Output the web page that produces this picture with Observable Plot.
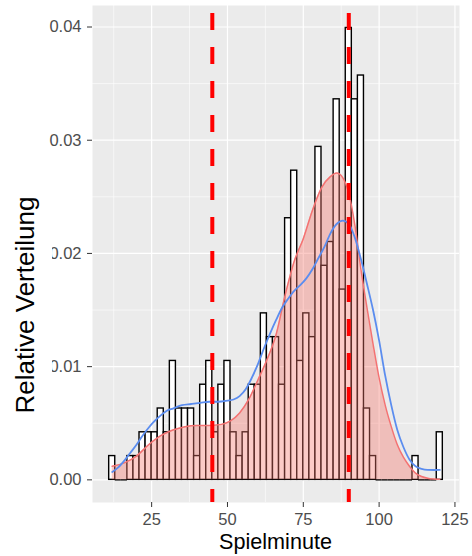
<!DOCTYPE html>
<html>
<head>
<meta charset="utf-8">
<script src="https://cdn.jsdelivr.net/npm/d3@7"></script>
<script src="https://cdn.jsdelivr.net/npm/@observablehq/plot@0.6"></script>
<style>
  body { margin: 0; background: #fff; }
  #chart { width: 472px; height: 556px; }
</style>
</head>
<body>
<div id="chart"></div>
<script>
// Histogram: bins of 2 minutes starting at minute 11
const binStart = 11;
const binWidth = 2;
const nTotal = 238;
const counts = [1,0,0,1,1,2,2,2,3,2, 5,3,3,3,1,4,5,2,4,5, 2,1,2,4,4,7,6,6,4,11, 13,5,7,6,14,9,10,16,8,19, 16,17,3,1,0,0,0,0,0,0, 1,0,0,0,2];

// Density curves
const redX = [12,16,20,24,28,32,36,40,44,48,51,54,57,60,63,66,69,72,75,78,81,84,86,88,90,92,94,96,98,100,102,104,106,108,110,112,114,116,118,120];
const redY = [0.0012,0.0015,0.0021,0.0031,0.0039,0.0044,0.0047,0.0048,0.0048,0.0049,0.0052,0.0059,0.0071,0.0088,0.0106,0.0128,0.0163,0.0193,0.0213,0.0238,0.0258,0.0268,0.0271,0.0267,0.0253,0.0225,0.0186,0.0152,0.0120,0.0090,0.0066,0.0047,0.0031,0.0020,0.0012,0.0006,0.0003,0.00015,0.00008,0.00005];
const blueX = [12,14,16,18,20,22,24,26,28,30,32,35,38,41,44,47,50,52,54,56,58,60,62,64,66,68,70,72,74,76,78,80,82,84,86,88,90,92,94,96,98,100,102,104,106,108,110,112,114,116,118,120];
const blueY = [0.0007,0.0011,0.0017,0.0024,0.0031,0.0039,0.0046,0.0052,0.0057,0.0061,0.0063,0.0066,0.0067,0.0068,0.0069,0.0069,0.0070,0.0071,0.0074,0.0080,0.0090,0.0102,0.0116,0.0129,0.0141,0.0152,0.0160,0.0167,0.0172,0.0178,0.0186,0.0196,0.0206,0.0218,0.0226,0.0229,0.0226,0.0214,0.0195,0.0173,0.0150,0.0123,0.0092,0.0066,0.0044,0.0029,0.0018,0.0012,0.00097,0.00088,0.00087,0.00088];

// Reference lines (half time, full time)
const halfLines = [45, 90];

// Ticks
const xTicks = [25, 50, 75, 100, 125];
const xMinor = [12.5, 37.5, 62.5, 87.5, 112.5];
const yTicks = [0, 0.01, 0.02, 0.03, 0.04];
const yMinor = [0.005, 0.015, 0.025, 0.035];
const xTitle = "Spielminute";
const yTitle = "Relative Verteilung";

const bins = counts.map((c, i) => ({
  x1: binStart + i * binWidth,
  x2: binStart + (i + 1) * binWidth,
  count: c,
  rel: c / (nTotal * binWidth)
}));
const red = redX.map((x, i) => ({x, y: redY[i]}));
const blue = blueX.map((x, i) => ({x, y: blueY[i]}));

const W = 472, H = 556, mL = 92, mR = 13, mT = 5, mB = 54;

const plot = Plot.plot({
  width: W, height: H,
  marginLeft: mL, marginRight: mR, marginTop: mT, marginBottom: mB,
  x: {domain: [5.5, 126.5]},
  y: {domain: [-0.002, 0.0419]},
  style: {fontFamily: "'Liberation Sans', Arial, sans-serif", background: "white", overflow: "visible"},
  marks: [
    Plot.frame({fill: "#EBEBEB", stroke: null}),
    Plot.gridX(xMinor, {stroke: "white", strokeOpacity: 1, strokeWidth: 0.6}),
    Plot.gridY(yMinor, {stroke: "white", strokeOpacity: 1, strokeWidth: 0.6}),
    Plot.gridX(xTicks, {stroke: "white", strokeOpacity: 1, strokeWidth: 1.2}),
    Plot.gridY(yTicks, {stroke: "white", strokeOpacity: 1, strokeWidth: 1.2}),
    Plot.rect(bins.filter(d => d.count > 0), {x1: "x1", x2: "x2", y1: 0, y2: "rel", fill: "white", stroke: "black", strokeWidth: 1.4}),
    Plot.ruleY(bins.filter(d => d.count === 0), {x1: "x1", x2: "x2", y: 0, stroke: "black", strokeWidth: 1.4}),
    Plot.areaY(red, {x: "x", y: "y", fill: "#F8766D", fillOpacity: 0.38, curve: "monotone-x"}),
    Plot.lineY(red, {x: "x", y: "y", stroke: "#F47272", strokeWidth: 1.5, curve: "monotone-x"}),
    Plot.lineY(blue, {x: "x", y: "y", stroke: "#5B8DEF", strokeWidth: 1.8, curve: "monotone-x"}),
    Plot.ruleX(halfLines, {stroke: "#FF0000", strokeWidth: 4, strokeDasharray: "17,17", strokeDashoffset: 26}),
    Plot.axisX(xTicks, {tickSize: 5, tickPadding: 6, fontSize: 16.5, label: null, stroke: "#333333", fill: "#4D4D4D"}),
    Plot.axisY(yTicks, {tickSize: 5, tickPadding: 6, fontSize: 16.5, label: null, tickFormat: d3.format(".2f"), stroke: "#333333", fill: "#4D4D4D"})
  ]
});

const svg = d3.select(plot);
svg.append("text")
  .attr("x", mL + (W - mL - mR) / 2)
  .attr("y", 549)
  .attr("text-anchor", "middle")
  .attr("font-size", 21.6)
  .attr("fill", "black")
  .text(xTitle);
svg.append("rect")
  .attr("x", 0).attr("y", 185).attr("width", 52).attr("height", 240)
  .attr("fill", "white");
svg.append("text")
  .attr("transform", "translate(34,305) rotate(-90)")
  .attr("text-anchor", "middle")
  .attr("font-size", 26)
  .attr("fill", "black")
  .text(yTitle);

document.getElementById("chart").appendChild(plot);
</script>
</body>
</html>
